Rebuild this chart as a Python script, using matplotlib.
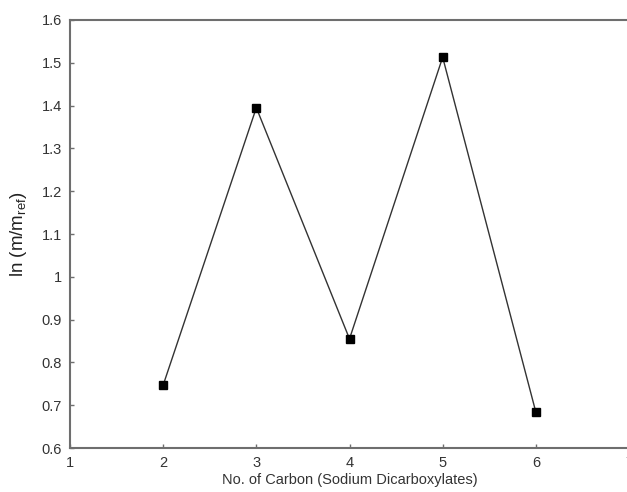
import matplotlib
matplotlib.use("Agg")
import matplotlib.pyplot as plt

# data
carbons = [2, 3, 4, 5, 6]
ln_ratio = [0.747, 1.395, 0.855, 1.513, 0.684]
x_ticks = [1, 2, 3, 4, 5, 6, 7]
y_ticks = [0.6, 0.7, 0.8, 0.9, 1.0, 1.1, 1.2, 1.3, 1.4, 1.5, 1.6]
y_tick_labels = ["0.6", "0.7", "0.8", "0.9", "1", "1.1", "1.2", "1.3", "1.4", "1.5", "1.6"]

plt.rcParams['font.family'] = ['Liberation Sans', 'DejaVu Sans']

fig = plt.figure(figsize=(6.27, 4.92), dpi=100)
ax = fig.add_axes([70 / 627, 1 - 448 / 492, 559 / 627, 428 / 492])

ax.plot(carbons, ln_ratio, color='#333333', lw=1.0, marker='s', ms=6,
        mfc='black', mec='black', zorder=3)

ax.set_xlim(1, 7)
ax.set_ylim(0.6, 1.6)
ax.set_xticks(x_ticks)
ax.set_yticks(y_ticks)
ax.set_yticklabels(y_tick_labels)

for side in ['left', 'bottom', 'top']:
    ax.spines[side].set_color('#6e6e6e')
    ax.spines[side].set_linewidth(1.5)
ax.spines['right'].set_visible(False)
ax.tick_params(direction='in', length=3, width=1, color='#6e6e6e',
               labelsize=10.5, labelcolor='#333333', pad=6)

ax.set_xlabel('No. of Carbon (Sodium Dicarboxylates)', fontsize=10.5,
              color='#333333', labelpad=2)
ax.set_ylabel(r'ln (m/m$_{\mathregular{ref}}$)', fontsize=13.5, color='#222222',
              labelpad=9)

fig.savefig('out.png', dpi=100)
